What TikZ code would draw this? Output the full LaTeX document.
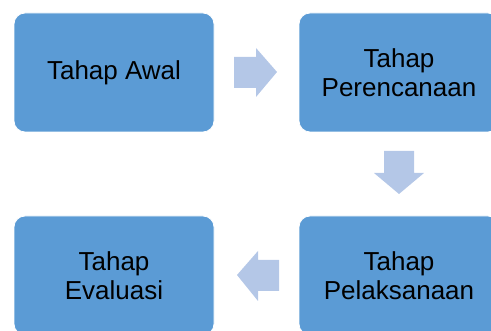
\documentclass[tikz,border=0pt]{standalone}
\usepackage{fontspec}
\setmainfont{Liberation Sans}
\definecolor{boxblue}{HTML}{5B9BD5}
\definecolor{arrowblue}{HTML}{B4C7E7}
\begin{document}
\begin{tikzpicture}[x=1pt,y=1pt,
  stage/.style={fill=boxblue, draw=white, line width=0.8pt, rounded corners=11pt,
    minimum width=200pt, minimum height=119pt, inner sep=0pt, align=center,
    font=\fontsize{26}{28.5}\selectfont, text=black},
  flowarrow/.style={fill=arrowblue, draw=none}]
\useasboundingbox (0,0) rectangle (491,331);
\node[stage] (awal) at (114,258.5) {Tahap Awal};
\node[stage] (rencana) at (399,258.5) {Tahap\\Perencanaan};
\node[stage] (laksana) at (399,55.5) {Tahap\\Pelaksanaan};
\node[stage] (evaluasi) at (114,55.5) {Tahap\\Evaluasi};
% right arrow
\fill[flowarrow] (234,274) -- (256,274) -- (256,283) -- (277,259) -- (256,234) -- (256,243) -- (234,243) -- cycle;
% down arrow
\fill[flowarrow] (384,180) -- (414,180) -- (414,158) -- (424,158) -- (399,137) -- (374,158) -- (384,158) -- cycle;
% left arrow
\fill[flowarrow] (279,71) -- (258,71) -- (258,80) -- (237,56) -- (258,30) -- (258,40) -- (279,40) -- cycle;
\end{tikzpicture}
\end{document}
